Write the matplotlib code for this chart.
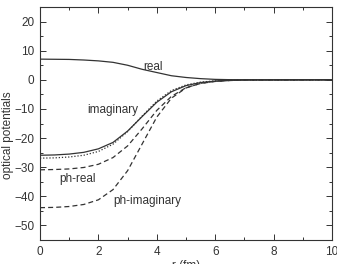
import matplotlib.pyplot as plt
from matplotlib.ticker import MultipleLocator

plt.rcParams['font.family'] = ['Liberation Sans', 'DejaVu Sans']

r = [0, 0.5, 1, 1.5, 2, 2.5, 3, 3.5, 4, 4.5, 5, 5.5, 6, 6.5, 7, 10]

real = [7.1, 7.05, 7.0, 6.8, 6.5, 6.0, 5.0, 3.6, 2.5, 1.4, 0.8, 0.4, 0.15, 0.05, 0, 0]
imaginary = [-25.9, -25.8, -25.5, -24.9, -23.7, -21.5, -17.6, -12.6, -7.7, -4.1, -2.0, -0.94, -0.43, -0.19, -0.05, 0]
imag2 = [-26.9, -26.8, -26.5, -25.9, -24.6, -22.1, -17.8, -12.4, -7.3, -3.7, -1.75, -0.79, -0.35, -0.15, -0.05, 0]
ph_real = [-30.9, -30.8, -30.6, -30.1, -29.0, -26.7, -22.7, -16.8, -10.5, -5.7, -2.7, -1.25, -0.56, -0.25, -0.05, 0]
ph_imag = [-43.9, -43.8, -43.5, -42.8, -41.2, -37.7, -31.2, -22.0, -12.8, -6.3, -2.8, -1.2, -0.5, -0.2, -0.05, 0]

col = '#333333'

fig = plt.figure(figsize=(3.37, 2.64), dpi=100)
ax = fig.add_axes([40/337, 24/264, 292/337, 233/264])

ax.plot(r, real, color=col, lw=0.9, ls='-')
ax.plot(r, imaginary, color=col, lw=0.9, ls='-')
ax.plot(r, imag2, color=col, lw=0.9, ls=(0, (1, 1.5)))
ax.plot(r, ph_real, color=col, lw=0.9, ls=(0, (4, 2.5)))
ax.plot(r, ph_imag, color=col, lw=0.9, ls=(0, (4, 2.5)))

fs = 8.5
ax.text(3.87, 4.5, 'real', fontsize=fs, color=col, ha='center', va='center')
ax.text(2.5, -10.2, 'imaginary', fontsize=fs, color=col, ha='center', va='center')
ax.text(1.3, -34, 'ph-real', fontsize=fs, color=col, ha='center', va='center')
ax.text(3.66, -41.6, 'ph-imaginary', fontsize=fs, color=col, ha='center', va='center')

ax.set_xlim(0, 10)
ax.set_ylim(-55, 25)
ax.xaxis.set_major_locator(MultipleLocator(2))
ax.xaxis.set_minor_locator(MultipleLocator(1))
ax.yaxis.set_major_locator(MultipleLocator(10))
ax.yaxis.set_minor_locator(MultipleLocator(5))
ax.tick_params(which='both', direction='in', top=True, right=True, colors=col,
               labelsize=fs, width=0.7)
ax.tick_params(which='major', length=4, pad=4)
ax.tick_params(which='minor', length=2.5)
for s in ax.spines.values():
    s.set_color(col)
    s.set_linewidth(0.8)

ax.set_xlabel('r (fm)', fontsize=fs, color=col, labelpad=2)
ax.set_ylabel('optical potentials', fontsize=fs, color=col)
ax.yaxis.set_label_coords(-0.09, 0.45)

fig.savefig('out.png', dpi=100)
